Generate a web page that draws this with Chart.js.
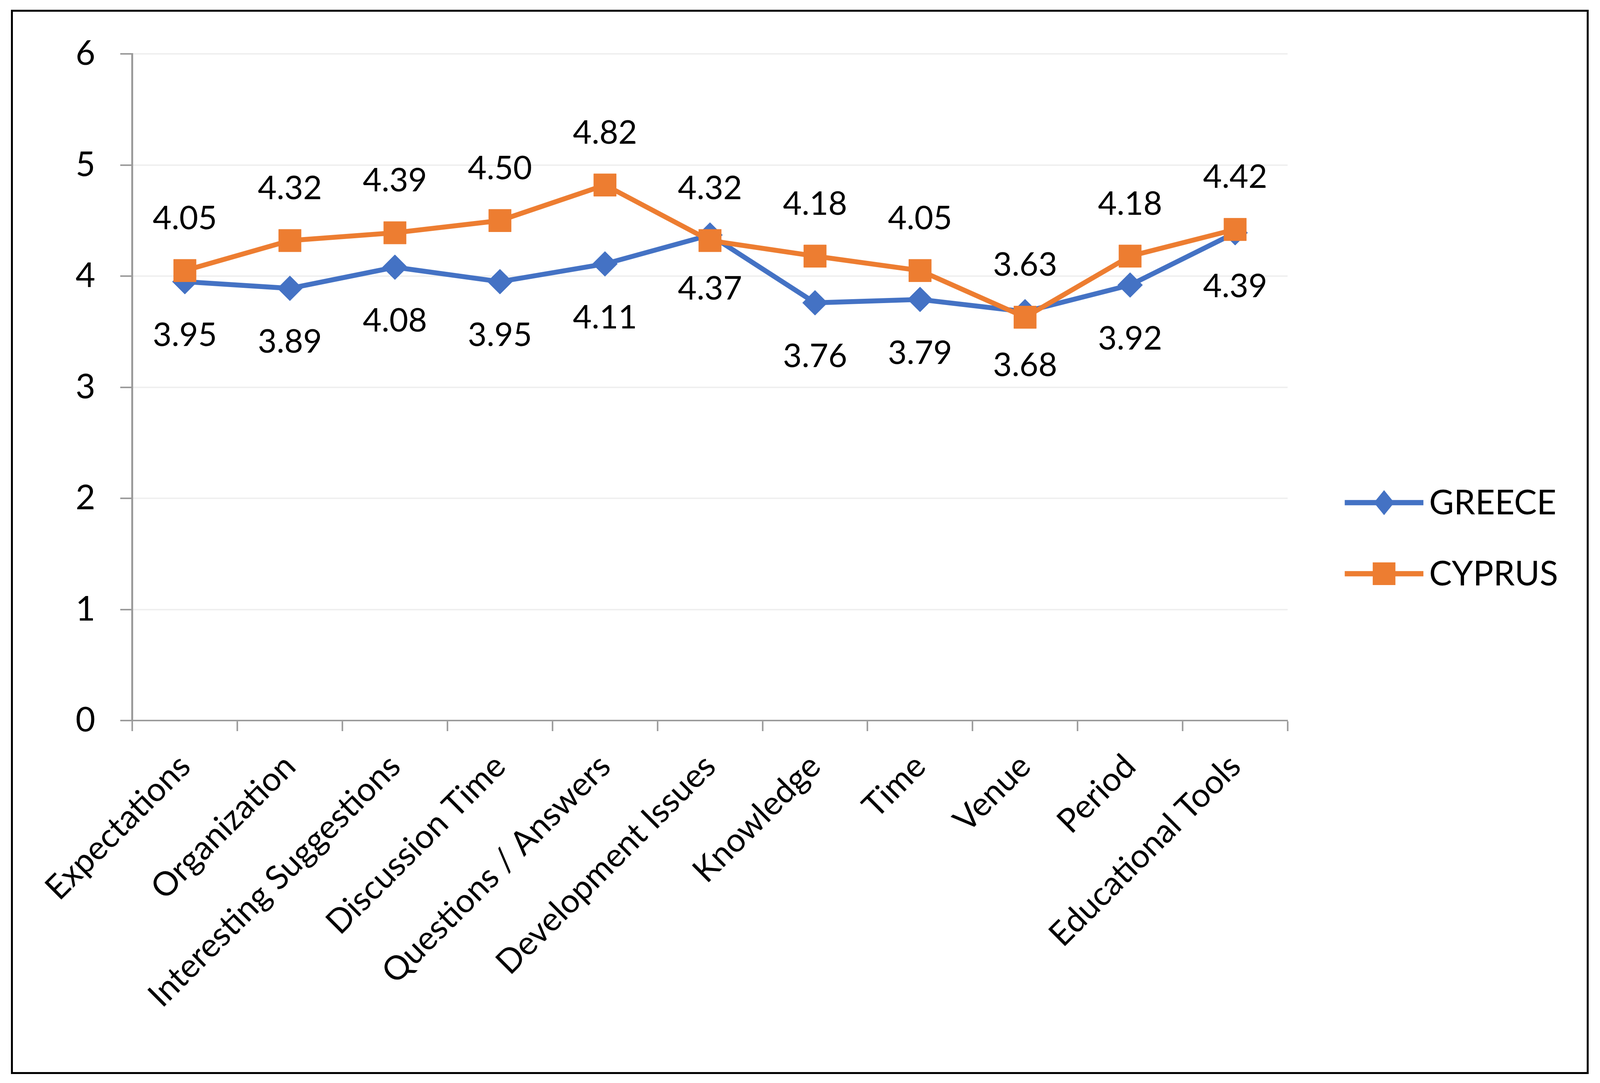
<!DOCTYPE html>
<html>
<head>
<meta charset="utf-8">
<script src="https://cdn.jsdelivr.net/npm/chart.js@4.4.1/dist/chart.umd.min.js"></script>
<style>
  html, body { margin: 0; padding: 0; background: #fff; overflow: hidden; }
  #wrap { position: relative; }
  #frame { position: absolute; border: solid #000; box-sizing: border-box; pointer-events: none; }
  canvas { position: absolute; left: 0; top: 0; }
</style>
</head>
<body>
<div id="wrap">
  <canvas id="myChart"></canvas>
  <div id="frame"></div>
</div>
<script>
// -- data --
const categories = ['Expectations', 'Organization', 'Interesting Suggestions', 'Discussion Time',
    'Questions / Answers', 'Development Issues', 'Knowledge', 'Time', 'Venue', 'Period',
    'Educational Tools'];
const greece = [3.95, 3.89, 4.08, 3.95, 4.11, 4.37, 3.76, 3.79, 3.68, 3.92, 4.39];
const cyprus = [4.05, 4.32, 4.39, 4.50, 4.82, 4.32, 4.18, 4.05, 3.63, 4.18, 4.42];
const yTicks = [0, 1, 2, 3, 4, 5, 6];

const BLUE   = '#4472C4';
const ORANGE = '#ED7D31';
const AXIS   = '#999999';
const FONT   = "Lato, 'Open Sans', sans-serif";

// layout is measured on a 4231 x 2773 reference; scale to whatever viewport we get
const W  = document.documentElement.clientWidth  || window.innerWidth;
const H  = document.documentElement.clientHeight || window.innerHeight;
const SX = W / 4231, SY = H / 2773, S = Math.min(SX, SY);

const wrap = document.getElementById('wrap');
wrap.style.width = W + 'px';
wrap.style.height = H + 'px';
const frame = document.getElementById('frame');
frame.style.left   = (29 * SX) + 'px';
frame.style.top    = (25 * SY) + 'px';
frame.style.width  = ((4201 - 29) * SX) + 'px';
frame.style.height = ((2750 - 25) * SY) + 'px';
frame.style.borderWidth = Math.max(2, 6 * S) + 'px';

const canvas = document.getElementById('myChart');
canvas.width = W;
canvas.height = H;

// value labels: Cyprus above the point, Greece below
const valueLabels = {
    id: 'valueLabels',
    afterDatasetsDraw(chart) {
        const ctx = chart.ctx;
        ctx.save();
        ctx.font = (86 * S) + 'px ' + FONT;
        ctx.fillStyle = '#000';
        ctx.textAlign = 'center';
        ctx.textBaseline = 'middle';
        chart.data.datasets.forEach((ds, i) => {
            const meta = chart.getDatasetMeta(i);
            const dy = (ds.labelSide === 'above' ? -133 : 138) * SY;
            meta.data.forEach((pt, j) => {
                ctx.fillText(ds.data[j].toFixed(2), pt.x, pt.y + dy);
            });
        });
        ctx.restore();
    }
};

// legend to the right: line + marker + name
const sideLegend = {
    id: 'sideLegend',
    afterDraw(chart) {
        const ctx = chart.ctx;
        const x0 = 3556 * SX, x1 = 3764 * SX, yStart = 1287 * SY, step = 182 * SY;
        ctx.save();
        chart.data.datasets.forEach((ds, i) => {
            const y = yStart + i * step;
            const cx = (x0 + x1) / 2;
            ctx.strokeStyle = ds.borderColor;
            ctx.lineWidth = 14 * S;
            ctx.beginPath();
            ctx.moveTo(x0, y);
            ctx.lineTo(x1, y);
            ctx.stroke();
            ctx.fillStyle = ds.borderColor;
            ctx.beginPath();
            if (ds.pointStyle === 'rect') {
                ctx.rect(cx - 30 * S, y - 30 * S, 60 * S, 60 * S);
            } else {
                ctx.moveTo(cx, y - 33 * S);
                ctx.lineTo(cx + 27 * S, y);
                ctx.lineTo(cx, y + 33 * S);
                ctx.lineTo(cx - 27 * S, y);
                ctx.closePath();
            }
            ctx.fill();
            ctx.fillStyle = '#000';
            ctx.font = (90 * S) + 'px ' + FONT;
            ctx.textAlign = 'left';
            ctx.textBaseline = 'middle';
            ctx.fillText(ds.label, 3779 * SX, y + 2 * SY);
        });
        ctx.restore();
    }
};

const myChart = new Chart(canvas.getContext('2d'), {
    type: 'line',
    data: {
        labels: categories,
        datasets: [
            { label: 'GREECE', data: greece, labelSide: 'below', order: 2,
              borderColor: BLUE, backgroundColor: BLUE,
              borderWidth: 13 * S, pointStyle: 'rectRot', pointRadius: 33 * S,
              pointBorderWidth: 1, pointBackgroundColor: BLUE, pointBorderColor: BLUE,
              tension: 0 },
            { label: 'CYPRUS', data: cyprus, labelSide: 'above', order: 1,
              borderColor: ORANGE, backgroundColor: ORANGE,
              borderWidth: 13 * S, pointStyle: 'rect', pointRadius: 42 * S,
              pointBorderWidth: 1, pointBackgroundColor: ORANGE, pointBorderColor: ORANGE,
              tension: 0 }
        ]
    },
    options: {
        responsive: false,
        animation: false,
        devicePixelRatio: 1,
        layout: { padding: { left: 40 * SX, top: 138 * SY, right: 826 * SX, bottom: 0 } },
        plugins: {
            legend: { display: false },
            tooltip: { enabled: false }
        },
        scales: {
            x: {
                offset: true,
                grid: { offset: true, drawOnChartArea: false, drawTicks: true,
                        tickLength: 27 * SY, tickColor: AXIS, tickWidth: 4 * S },
                border: { color: AXIS, width: 4 * S },
                ticks: { color: '#000', font: { family: FONT, size: 88 * S },
                         minRotation: 45, maxRotation: 45, padding: 40 * SY, autoSkip: false },
                afterFit: s => { s.height = (2773 - 1845) * SY; }
            },
            y: {
                min: 0, max: 6,
                afterBuildTicks: s => { s.ticks = yTicks.map(v => ({ value: v })); },
                grid: { color: '#efefef', lineWidth: 4 * S, tickLength: 32 * SX,
                        tickColor: AXIS, tickWidth: 4 * S },
                border: { color: AXIS, width: 5 * S },
                ticks: { color: '#000', font: { family: FONT, size: 90 * S }, padding: 66 * SX },
                afterFit: s => { s.width = (350 - 40) * SX; }
            }
        }
    },
    plugins: [valueLabels, sideLegend]
});
</script>
</body>
</html>
